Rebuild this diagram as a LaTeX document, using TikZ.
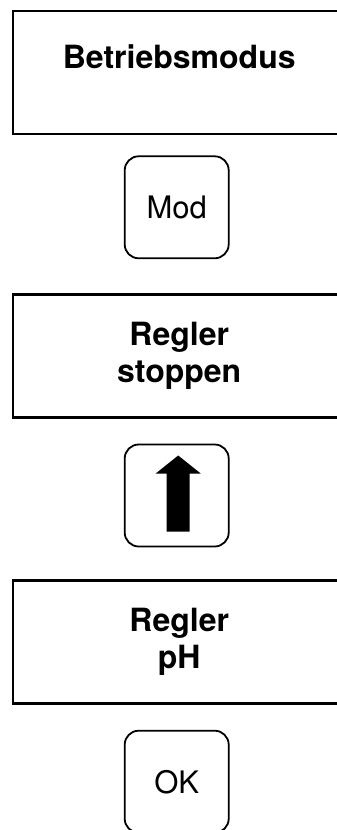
\documentclass[tikz,border=0pt]{standalone}
\usepackage{fontspec}
\setmainfont{TeX Gyre Heros}
\usetikzlibrary{positioning}

\tikzset{
  screen/.style={draw,line width=2.4pt,minimum width=332pt,minimum height=123pt,
                 inner sep=0pt,align=center,font=\fontsize{32}{37}\selectfont\bfseries},
  keybtn/.style={draw,line width=1.8pt,rounded corners=14pt,minimum width=104pt,
                 minimum height=102pt,inner sep=0pt,font=\fontsize{31}{37}\selectfont},
}

\begin{document}
\begin{tikzpicture}[x=1pt,y=1pt]
  \useasboundingbox (0,0) rectangle (337,-830);
  % display screens
  \node[screen,anchor=north west] (mode) at (12,-10) {};
  \node[font=\fontsize{32}{37}\selectfont\bfseries] (modetxt)
        at ([yshift=-47pt]mode.north) {Betriebsmodus};
  \node[keybtn,below=20pt of mode,xshift=-2.5pt] (kmod) {Mod};
  \node[screen,below=34pt of kmod,xshift=2.5pt] (stop) {Regler\\stoppen};
  \node[keybtn,below=25pt of stop,xshift=-2.5pt] (kup) {};
  \fill[shift={(kup.center)},xshift=1.5pt]
       (0,40) -- (22.5,22) -- (11.5,22) -- (11.5,-36)
       -- (-11.5,-36) -- (-11.5,22) -- (-22.5,22) -- cycle;
  \node[screen,below=32pt of kup,xshift=2.5pt] (ph) {Regler\\pH};
  \node[keybtn,below=25pt of ph,xshift=-2.5pt] (kok) {OK};
\end{tikzpicture}
\end{document}
